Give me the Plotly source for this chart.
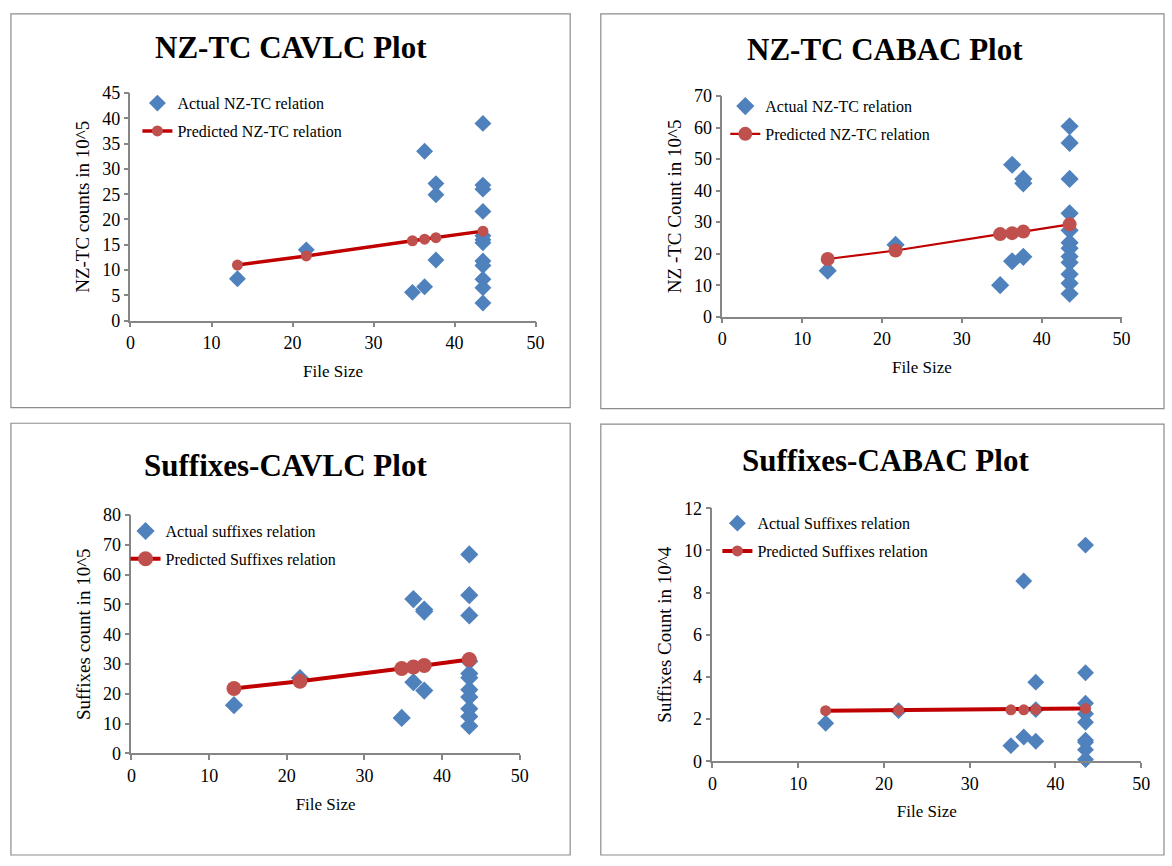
import plotly.graph_objects as go

# ---------------- data ----------------
file_sizes = [13.2, 21.7, 34.8, 36.3, 37.7, 43.5]

# Panel 1: NZ-TC CAVLC
p1_actual_x = [13.2, 21.7, 34.8, 36.3, 36.3, 37.7, 37.7, 37.7,
               43.5, 43.5, 43.5, 43.5, 43.5, 43.5, 43.5, 43.5, 43.5, 43.5, 43.5, 43.5]
p1_actual_y = [8.3, 14.0, 5.6, 33.5, 6.7, 27.1, 24.9, 12.0,
               39.0, 26.8, 26.0, 21.6, 16.8, 16.0, 15.4, 11.8, 10.9, 8.2, 6.5, 3.5]
p1_pred_y = [11.0, 12.8, 15.8, 16.1, 16.4, 17.7]

# Panel 2: NZ-TC CABAC
p2_actual_x = [13.2, 21.7, 34.8, 36.3, 36.3, 37.7, 37.7, 37.7,
               43.5, 43.5, 43.5, 43.5, 43.5, 43.5, 43.5, 43.5, 43.5, 43.5, 43.5, 43.5]
p2_actual_y = [14.6, 22.8, 10.0, 48.2, 17.6, 43.7, 42.3, 19.0,
               60.4, 55.1, 43.7, 32.8, 27.4, 23.5, 21.7, 19.1, 17.2, 13.5, 10.6, 7.3]
p2_pred_y = [18.3, 21.0, 26.2, 26.5, 27.0, 29.3]

# Panel 3: Suffixes CAVLC
p3_actual_x = [13.2, 21.7, 34.8, 36.3, 36.3, 37.7, 37.7, 37.7,
               43.5, 43.5, 43.5, 43.5, 43.5, 43.5, 43.5, 43.5, 43.5, 43.5, 43.5]
p3_actual_y = [16.2, 25.3, 11.9, 51.8, 23.9, 48.3, 47.6, 21.1,
               66.8, 53.1, 46.3, 30.9, 26.8, 25.4, 21.4, 18.9, 15.0, 12.4, 9.2]
p3_pred_y = [21.8, 24.2, 28.5, 29.0, 29.5, 31.5]

# Panel 4: Suffixes CABAC
p4_actual_x = [13.2, 21.7, 34.8, 36.3, 36.3, 37.7, 37.7, 37.7,
               43.5, 43.5, 43.5, 43.5, 43.5, 43.5, 43.5, 43.5, 43.5]
p4_actual_y = [1.8, 2.4, 0.74, 8.55, 1.15, 3.75, 2.45, 0.95,
               10.25, 4.2, 2.75, 2.25, 1.85, 1.0, 0.9, 0.55, 0.08]
p4_pred_y = [2.40, 2.42, 2.44, 2.44, 2.45, 2.50]

titles = ["NZ-TC CAVLC Plot", "NZ-TC CABAC Plot", "Suffixes-CAVLC Plot", "Suffixes-CABAC Plot"]
y_titles = ["NZ-TC counts in 10^5", "NZ -TC Count in 10^5", "Suffixes count in 10^5", "Suffixes Count in 10^4"]
x_title = "File Size"
actual_names = ["Actual NZ-TC relation", "Actual NZ-TC relation", "Actual suffixes relation", "Actual Suffixes relation"]
pred_names = ["Predicted NZ-TC relation", "Predicted NZ-TC relation", "Predicted Suffixes relation", "Predicted Suffixes relation"]
y_ranges = [(0, 45, 5), (0, 70, 10), (0, 80, 10), (0, 12, 2)]

# ---------------- layout geometry (pixels) ----------------
W, H = 1172, 866
FONT = "Times New Roman, Liberation Serif, serif"
BLUE = "#4F81BD"
RED_LINE = "#C00000"
RED_MK = "#C0504D"
AXIS = "#868686"

# plot-area boxes: (x0, x1, y_top, y_bottom) in pixels
boxes = [(127, 537, 85, 318), (726, 1130, 88, 314), (128, 521, 517, 761), (716, 1150, 510, 769)]
# panel borders
borders = [(6, 572, 4, 407), (603, 1173, 4, 408), (6, 572, 423, 865), (603, 1173, 424, 865)]
title_pos = [(289, 38), (891, 40), (284, 466), (891, 461)]
legend_pos = [(134, 78), (729, 81), (122, 516), (721, 508)]
diamond_size = [13, 14, 14, 13]
circle_size = [11, 14, 15, 11]
line_w = [3.5, 2.2, 4, 4]

actual_x = [p1_actual_x, p2_actual_x, p3_actual_x, p4_actual_x]
actual_y = [p1_actual_y, p2_actual_y, p3_actual_y, p4_actual_y]
pred_y = [p1_pred_y, p2_pred_y, p3_pred_y, p4_pred_y]

fig = go.Figure()
layout = dict(
    width=W, height=H, margin=dict(l=0, r=0, t=0, b=0),
    paper_bgcolor="white", plot_bgcolor="white",
    font=dict(family=FONT, size=16, color="#000000"),
    showlegend=True, shapes=[], annotations=[],
)

for i in range(4):
    sfx = "" if i == 0 else str(i + 1)
    xa, ya = "x" + sfx, "y" + sfx
    lg = "legend" + sfx
    fig.add_trace(go.Scatter(
        x=actual_x[i], y=actual_y[i], mode="markers", name=actual_names[i],
        marker=dict(symbol="diamond", size=diamond_size[i], color=BLUE, line=dict(width=0)),
        xaxis=xa, yaxis=ya, legend=lg, legendgroup="a" + sfx, cliponaxis=False))
    fig.add_trace(go.Scatter(
        x=file_sizes, y=pred_y[i], mode="lines+markers", name=pred_names[i],
        line=dict(color=RED_LINE, width=line_w[i]),
        marker=dict(symbol="circle", size=circle_size[i], color=RED_MK),
        xaxis=xa, yaxis=ya, legend=lg, legendgroup="p" + sfx, cliponaxis=False))

    x0, x1, yt, yb = boxes[i]
    lo, hi, dt = y_ranges[i]
    common = dict(showline=True, linecolor=AXIS, linewidth=1.5, ticks="outside",
                  ticklen=5, tickcolor=AXIS, tickwidth=1.5, showgrid=False, zeroline=False,
                  tickfont=dict(family=FONT, size=18, color="#000"))
    layout["xaxis" + sfx] = dict(
        domain=[x0 / W, x1 / W], range=[0, 50], dtick=10, tick0=0, anchor=ya,
        title=dict(text=x_title, font=dict(family=FONT, size=17), standoff=13), **common)
    layout["yaxis" + sfx] = dict(
        domain=[(H - yb) / H, (H - yt) / H], range=[lo, hi], dtick=dt, tick0=0, anchor=xa,
        title=dict(text=y_titles[i], font=dict(family=FONT, size=19), standoff=7), **common)

    lx, ly = legend_pos[i]
    layout[lg] = dict(x=lx / W, y=(H - ly) / H, xanchor="left", yanchor="top",
                      bgcolor="rgba(0,0,0,0)", font=dict(family=FONT, size=16),
                      traceorder="grouped", tracegroupgap=4, itemwidth=30)

    bx0, bx1, byt, byb = borders[i]
    layout["shapes"].append(dict(type="rect", xref="paper", yref="paper",
                                 x0=bx0 / W, x1=bx1 / W, y0=(H - byb) / H, y1=(H - byt) / H,
                                 line=dict(color="#8C8C8C", width=1.2)))
    tx, ty = title_pos[i]
    layout["annotations"].append(dict(text="<b>" + titles[i] + "</b>", x=tx / W, y=(H - ty) / H,
                                      xref="paper", yref="paper", showarrow=False,
                                      xanchor="center", yanchor="middle",
                                      font=dict(family=FONT, size=31, color="#000")))

fig.update_layout(**layout)
fig.write_html("out.html", config={"displayModeBar": False},
               post_script="document.body.style.margin='0';document.body.style.overflow='hidden';")
